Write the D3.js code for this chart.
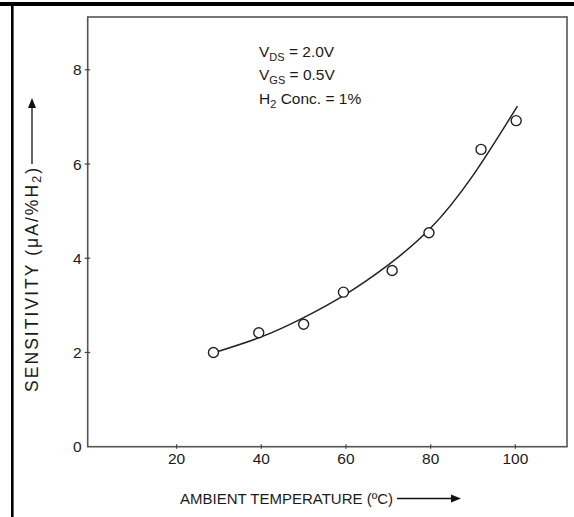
<!DOCTYPE html>
<html>
<head>
<meta charset="utf-8">
<script src="https://cdn.jsdelivr.net/npm/d3@7"></script>
<style>
  body { margin: 0; background: #fff; }
  text { font-family: "Liberation Sans", Arial, sans-serif; fill: #1a1a1a; }
</style>
</head>
<body>
<svg id="chart" width="574" height="517"></svg>
<script>
// measured points (temperature degC, sensitivity uA/%H2)
const tempPoints = [28.7, 39.4, 50.0, 59.4, 70.9, 79.6, 91.9, 100.2];
const sensPoints = [2.0, 2.42, 2.6, 3.28, 3.74, 4.54, 6.31, 6.92];

// fitted trend curve
const tempCurve = [29, 40, 50, 60, 70, 80, 90, 100.5];
const sensCurve = [2.0, 2.33, 2.74, 3.24, 3.86, 4.64, 5.76, 7.23];

const xTicks = [20, 40, 60, 80, 100];
const yTicks = [0, 2, 4, 6, 8];

const notes = [
    { main: "V", sub: "DS", rest: " = 2.0V" },
    { main: "V", sub: "GS", rest: " = 0.5V" },
    { main: "H", sub: "2", rest: " Conc. = 1%" }
];

const width = 574;
const height = 517;
const plotLeft = 87.7, plotRight = 567, plotTop = 17, plotBottom = 446.7;

const x = d3.scaleLinear().domain([-1, 112.2]).range([plotLeft, plotRight]);
const y = d3.scaleLinear().domain([0, 9.12]).range([plotBottom, plotTop]);

const svg = d3.select("#chart");

// page frame: thick rule at top and left
svg.append("rect").attr("x", 0).attr("y", 2).attr("width", width).attr("height", 4).attr("fill", "#000");
svg.append("rect").attr("x", 11).attr("y", 4).attr("width", 2.6).attr("height", height).attr("fill", "#000");

// plot box
svg.append("rect")
    .attr("x", plotLeft).attr("y", plotTop)
    .attr("width", plotRight - plotLeft).attr("height", plotBottom - plotTop)
    .attr("fill", "none")
    .attr("stroke", "#555")
    .attr("stroke-width", 1.6);

// ticks crossing the axes
svg.append("g").selectAll("line")
    .data(xTicks)
    .enter().append("line")
    .attr("x1", d => x(d)).attr("x2", d => x(d))
    .attr("y1", plotBottom - 2.5).attr("y2", plotBottom + 2)
    .attr("stroke", "#444").attr("stroke-width", 1.2);

svg.append("g").selectAll("line")
    .data(yTicks.filter(d => d > 0))
    .enter().append("line")
    .attr("x1", plotLeft - 3).attr("x2", plotLeft + 2.5)
    .attr("y1", d => y(d)).attr("y2", d => y(d))
    .attr("stroke", "#444").attr("stroke-width", 1.2);

svg.append("g").selectAll("text")
    .data(xTicks)
    .enter().append("text")
    .attr("x", d => x(d))
    .attr("y", plotBottom + 17.5)
    .attr("text-anchor", "middle")
    .attr("font-size", 15.5)
    .text(d => d);

svg.append("g").selectAll("text")
    .data(yTicks)
    .enter().append("text")
    .attr("x", plotLeft - 6)
    .attr("y", d => y(d) + 5.5)
    .attr("text-anchor", "end")
    .attr("font-size", 15.5)
    .text(d => d);

// trend curve
const curveData = tempCurve.map((t, i) => ({ t: t, s: sensCurve[i] }));
const line = d3.line()
    .x(d => x(d.t))
    .y(d => y(d.s))
    .curve(d3.curveNatural);

svg.append("path")
    .datum(curveData)
    .attr("d", line)
    .attr("fill", "none")
    .attr("stroke", "#222")
    .attr("stroke-width", 1.5);

// measured points
const pointData = tempPoints.map((t, i) => ({ t: t, s: sensPoints[i] }));
svg.append("g").selectAll("circle")
    .data(pointData)
    .enter().append("circle")
    .attr("cx", d => x(d.t))
    .attr("cy", d => y(d.s))
    .attr("r", 5)
    .attr("fill", "#fff")
    .attr("stroke", "#222")
    .attr("stroke-width", 1.4);

// conditions
const noteG = svg.append("g");
notes.forEach((n, i) => {
    const t = noteG.append("text")
        .attr("x", 259)
        .attr("y", 56.5 + i * 23.5)
        .attr("font-size", 15.5);
    t.append("tspan").text(n.main);
    t.append("tspan").attr("font-size", 11).attr("dy", 4).text(n.sub);
    t.append("tspan").attr("dy", -4).text(n.rest);
});

// x axis title with arrow
const xTitle = svg.append("text")
    .attr("x", 180)
    .attr("y", 504)
    .attr("font-size", 15)
    .text("AMBIENT TEMPERATURE (ºC)");
const xEnd = 180 + xTitle.node().getComputedTextLength();
svg.append("line")
    .attr("x1", xEnd + 4).attr("x2", xEnd + 60)
    .attr("y1", 498.5).attr("y2", 498.5)
    .attr("stroke", "#111").attr("stroke-width", 1.3);
svg.append("path")
    .attr("d", `M${xEnd + 58},494.5 L${xEnd + 68},498.5 L${xEnd + 58},502.5 Z`)
    .attr("fill", "#111");

// y axis title with arrow (the label runs longer in the source figure)
const yTitle = svg.append("text")
    .attr("transform", "translate(38,392) rotate(-90)")
    .attr("font-size", 17.5)
    .attr("textLength", 224)
    .attr("lengthAdjust", "spacing");
yTitle.append("tspan").text("SENSITIVITY (\u03bcA/%H");
yTitle.append("tspan").attr("font-size", 12.5).attr("dy", 3).text("2");
yTitle.append("tspan").attr("dy", -3).text(")");
const yEnd = 392 - 224;
svg.append("line")
    .attr("x1", 32).attr("x2", 32)
    .attr("y1", yEnd - 4).attr("y2", 106)
    .attr("stroke", "#111").attr("stroke-width", 1.3);
svg.append("path")
    .attr("d", "M28,108 L32,98 L36,108 Z")
    .attr("fill", "#111");
</script>
</body>
</html>
